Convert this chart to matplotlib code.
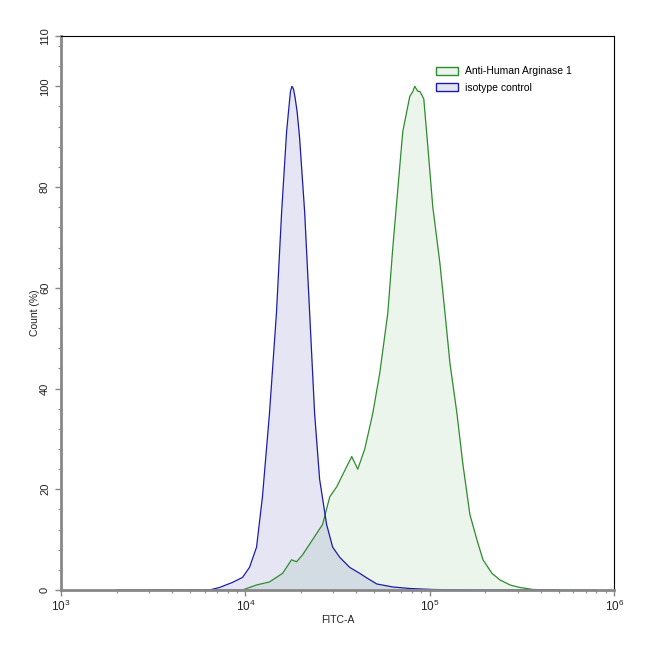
import matplotlib
matplotlib.use('Agg')
import matplotlib.pyplot as plt
import numpy as np
from matplotlib.patches import Patch
from matplotlib.ticker import FixedLocator, MultipleLocator, LogLocator, NullFormatter

plt.rcParams['font.family'] = ['Liberation Sans', 'DejaVu Sans']
plt.rcParams['mathtext.fontset'] = 'custom'
plt.rcParams['mathtext.rm'] = 'Liberation Sans'
plt.rcParams['mathtext.default'] = 'regular'

# isotype control (log10 of FITC-A, count %)
iso_log = [3.30, 3.804, 3.859, 3.929, 3.984, 4.022, 4.060, 4.092, 4.130, 4.168, 4.196,
           4.223, 4.236, 4.244, 4.252, 4.260, 4.268, 4.280, 4.293, 4.321, 4.348, 4.375, 4.402,
           4.440, 4.473, 4.511, 4.565, 4.620, 4.658, 4.712, 4.799, 4.891, 5.016, 5.217, 5.70]
iso_cnt = [0.0, 0.0, 0.5, 1.5, 2.5, 4.5, 8.5, 18.5, 35, 55, 75,
           91, 96, 99, 100, 99.5, 98, 95, 90, 75, 55, 35, 22,
           13, 8.5, 6.5, 4.5, 3.3, 2.4, 1.2, 0.6, 0.3, 0.1, 0.0, 0.0]

# Anti-Human Arginase 1
arg_log = [3.50, 3.984, 4.060, 4.130, 4.201, 4.250, 4.277, 4.310, 4.364, 4.418, 4.457,
           4.495, 4.549, 4.576, 4.609, 4.647, 4.690, 4.728, 4.772, 4.799, 4.826,
           4.853, 4.891, 4.908, 4.918, 4.935, 4.946, 4.967, 4.989, 5.016, 5.054,
           5.082, 5.109, 5.147, 5.179, 5.217, 5.255, 5.288, 5.337, 5.380, 5.435,
           5.489, 5.560, 5.652, 5.90]
arg_cnt = [0.0, 0.0, 1.0, 1.6, 3.3, 6.0, 5.6, 7.0, 10, 13, 18.5,
           20.5, 24.5, 26.5, 24, 28, 35, 43, 55, 68, 79.5,
           91, 98, 99, 100, 99, 99, 97.5, 88, 76, 65,
           55, 45, 35, 25, 15, 10, 6, 3.3, 2, 1,
           0.5, 0.1, 0.0, 0.0]

labels = ['Anti-Human Arginase 1', 'isotype control']
line_cols = ['#2e8b2e', '#1c1ca8']
fill_cols = [(0.0, 0.5, 0.0, 0.08), (0.0, 0.0, 0.6, 0.10)]

x_iso = 10 ** np.array(iso_log)
x_arg = 10 ** np.array(arg_log)

fig = plt.figure(figsize=(6.5, 6.48), dpi=100)
ax = fig.add_axes([0.094, 0.0895, 0.851, 0.855])

ax.fill_between(x_arg, arg_cnt, 0, color=fill_cols[0], lw=0)
ax.fill_between(x_iso, iso_cnt, 0, color=fill_cols[1], lw=0)
ax.plot(x_arg, arg_cnt, color=line_cols[0], lw=0.9)
ax.plot(x_iso, iso_cnt, color=line_cols[1], lw=0.9)

ax.set_xscale('log')
ax.set_xlim(1e3, 1e6)
ax.set_ylim(0, 110)
ax.xaxis.set_major_locator(FixedLocator([1e3, 1e4, 1e5, 1e6]))
ax.set_xticklabels([r'$10^{3}$', r'$10^{4}$', r'$10^{5}$', r'$10^{6}$'])
ax.xaxis.set_minor_locator(LogLocator(base=10, subs=np.arange(2, 10)))
ax.xaxis.set_minor_formatter(NullFormatter())
ax.yaxis.set_major_locator(FixedLocator([0, 20, 40, 60, 80, 100, 110]))
ax.yaxis.set_minor_locator(MultipleLocator(4))
for t in ax.get_yticklabels():
    t.set_rotation(90)
    t.set_va('center')

ax.tick_params(axis='both', which='major', length=4, width=1, color='#888888',
               labelsize=8, labelcolor='#222222')
ax.tick_params(axis='x', which='major', labelsize=8.5, pad=2)
ax.tick_params(axis='both', which='minor', length=2, width=0.8, color='#888888')
ax.tick_params(axis='y', pad=4)

for s in ['left', 'bottom']:
    ax.spines[s].set_color('#888888')
    ax.spines[s].set_linewidth(2)
for s in ['top', 'right']:
    ax.spines[s].set_color('black')
    ax.spines[s].set_linewidth(0.8)

ax.set_xlabel('FITC-A', fontsize=7.5, color='#222222', labelpad=1)
ax.set_ylabel('Count (%)', fontsize=7.5, color='#222222', labelpad=0)

handles = [Patch(facecolor=fill_cols[i], edgecolor=line_cols[i], lw=1) for i in range(2)]
ax.legend(handles, labels, loc='upper left', bbox_to_anchor=(0.66, 0.962), frameon=False,
          fontsize=7.5, handlelength=2.2, handleheight=0.8, handletextpad=0.6,
          labelspacing=0.6)

fig.savefig('out.png', dpi=100)
